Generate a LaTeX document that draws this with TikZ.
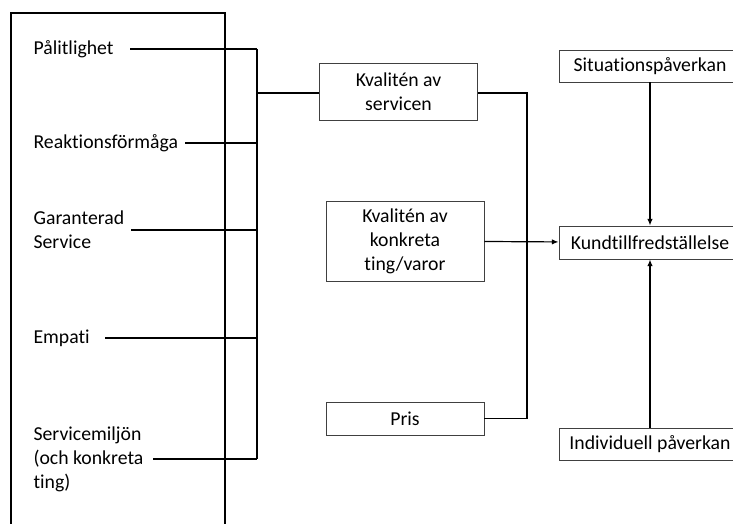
\documentclass[tikz,border=0pt]{standalone}
\usepackage{fontspec}
\setmainfont{Carlito}[Ligatures=NoCommon]
\usetikzlibrary{arrows.meta,positioning}

\begin{document}
\begin{tikzpicture}[x=0.75pt,y=-0.75pt,line width=0.9pt,>={Latex[length=5pt,width=4pt]},
        every node/.style={font=\fontsize{14.8}{18}\selectfont},
        box/.style={draw=black!75,line width=0.6pt,inner sep=2pt},
        mbox/.style={box,align=center},
        fac/.style={anchor=west,align=left,inner sep=0pt}]
        \useasboundingbox (0,0) rectangle (733,524);
        \draw[line width=1.4pt] (11,13) rectangle (225,560);
        % faktorer
        \node[fac] (pal) at (33,49) {Pålitlighet};
        \node[fac] (rea) at (33,143) {Reaktionsförmåga};
        \node[fac] (gar) at (33,230) {Garanterad\\Service};
        \node[fac] (emp) at (33,338) {Empati};
        \node[fac] (mil) at (33,459) {Servicemiljön\\(och konkreta\\ting)};
        % boxar
        \node[mbox,minimum width=119pt,minimum height=43pt] (kserv) at (398.5,92) {Kvalitén av\\servicen};
        \node[mbox,minimum width=118.5pt,minimum height=60pt] (kvar) at (405,241) {Kvalitén av\\konkreta\\ting/varor};
        \node[box,minimum width=118.5pt,minimum height=24.75pt] (pris) at (405,418.5) {Pris};
        \node[box,minimum width=136.5pt,minimum height=24pt] (sit) at (650,66) {Situationspåverkan};
        \node[box,minimum width=136.5pt,minimum height=24.75pt] (kund) at (650,242.5) {Kundtillfredställelse};
        \node[box,minimum width=136.5pt,minimum height=24pt] (ind) at (650,444) {Individuell påverkan};
        \coordinate (bus) at (257,93);
        \coordinate (rbus) at (527,93);
        \draw ([xshift=12pt]pal.east) -- (pal.east -| bus);
        \draw ([xshift=5pt]rea.east) -- (rea.east -| bus);
        \draw ([xshift=5pt]gar.north east |- gar.east) -- (gar.east -| bus);
        \draw ([xshift=11pt]emp.east) -- (emp.east -| bus);
        \draw ([xshift=7pt]mil.east) -- (mil.east -| bus);
        \draw (pal.east -| bus) -- (mil.east -| bus);
        \draw (bus) -- (bus -| kserv.west);
        \draw (rbus -| kserv.east) -- (rbus) |- (pris.east);
        \path[->]
        (sit) edge (kund)
        (ind) edge (kund)
        (kvar) edge (kund)
        ;
\end{tikzpicture}
\end{document}
